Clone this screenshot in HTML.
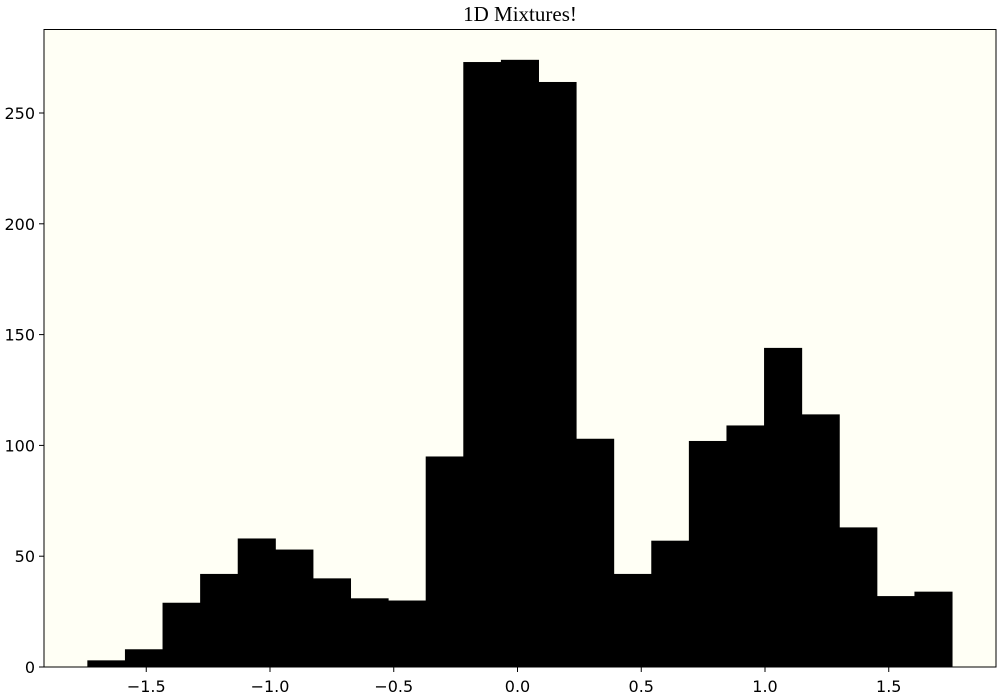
<!DOCTYPE html>
<html><head><meta charset="utf-8"><style>
body{margin:0;background:#fff;}
svg{display:block;font-family:"DejaVu Sans","Liberation Sans",sans-serif;}
</style></head><body>
<svg id="chart" width="1000" height="700">
<rect x="44" y="29.5" width="952" height="637.5" fill="#fffff5"/>
<g id="bars"></g>
<g id="axes"></g>
<text x="520" y="21" text-anchor="middle" font-family="Liberation Serif, serif" font-size="21">1D Mixtures!</text>
</svg>
<script>
const binStart = -1.738;
const binWidth = 0.1519;
const counts = [3, 8, 29, 42, 58, 53, 40, 31, 30, 95, 273, 274, 264, 103, 42, 57, 102, 109, 144, 114, 63, 32, 34];
const xTicks = [-1.5, -1.0, -0.5, 0.0, 0.5, 1.0, 1.5];
const xTickLabels = ["\u22121.5", "\u22121.0", "\u22120.5", "0.0", "0.5", "1.0", "1.5"];
const yTicks = [0, 50, 100, 150, 200, 250];

const NS = "http://www.w3.org/2000/svg";
function xs(v){ return 517.5 + v * 247.5; }
function ys(v){ return 667 - v * 2.216; }
function mk(tag, attrs, parent){ const e = document.createElementNS(NS, tag); for (const k in attrs) e.setAttribute(k, attrs[k]); parent.appendChild(e); return e; }

const bars = document.getElementById('bars');
counts.forEach((c, i) => {
  const x0 = xs(binStart + i * binWidth), x1 = xs(binStart + (i + 1) * binWidth);
  const r = mk('rect', {x: x0, y: ys(c), width: x1 - x0 + 0.5, height: ys(0) - ys(c), fill: '#000'}, bars);
  
  
});

const axes = document.getElementById('axes');
const frame = mk('rect', {x: 44, y: 29.5, width: 952, height: 637.5, fill: 'none', stroke: '#000', 'stroke-width': 1}, axes);


xTicks.forEach((t, i) => {
  const x = xs(t);
  mk('line', {x1: x, x2: x, y1: 667, y2: 672, stroke: '#000'}, axes);
  const tx = mk('text', {x: x, y: 692, 'text-anchor': 'middle', 'font-size': 16}, axes);
  tx.textContent = xTickLabels[i];
  
  
});
yTicks.forEach(t => {
  const y = ys(t);
  mk('line', {x1: 39, x2: 44, y1: y, y2: y, stroke: '#000'}, axes);
  const tx = mk('text', {x: 35, y: y + 6, 'text-anchor': 'end', 'font-size': 16}, axes);
  tx.textContent = String(t);
  
  
});
</script>
</body></html>
